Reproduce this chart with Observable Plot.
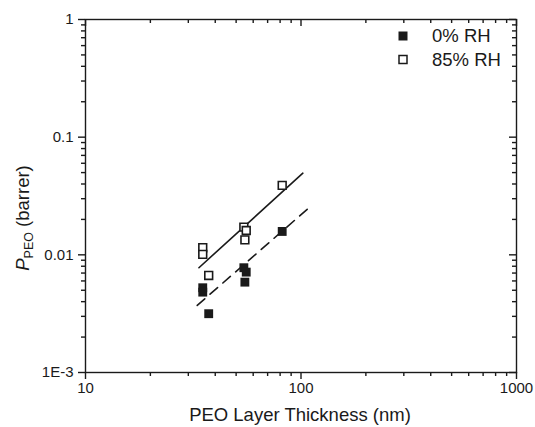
<!DOCTYPE html>
<html><head><meta charset="utf-8">
<script src="https://cdn.jsdelivr.net/npm/d3@7"></script>
<script src="https://cdn.jsdelivr.net/npm/@observablehq/plot@0.6"></script>
<style>
body{margin:0;background:#fff;}
#wrap{position:relative;width:535px;height:427px;font-family:Arial,"Liberation Sans",sans-serif;}
</style></head><body><div id="wrap"></div>
<script>
// 0% RH (filled squares)
const thick0 = [81.8, 54.3, 55.7, 54.9, 35.0, 35.0, 37.3];
const perm0  = [0.0158, 0.00777, 0.00713, 0.00586, 0.00525, 0.00482, 0.00316];
// 85% RH (open squares)
const thick85 = [81.8, 54.3, 55.7, 54.9, 35.0, 35.0, 37.3];
const perm85  = [0.0389, 0.0172, 0.0161, 0.0134, 0.0115, 0.0101, 0.00668];
// power-law fit lines
const fitX85 = [33.6, 102];
const fitY85 = [0.00777, 0.0494];
const fitX0  = [33.0, 108];
const fitY0  = [0.00372, 0.0248];
// ticks
const xMajor = [10, 100, 1000];
const xLabels = ["10", "100", "1000"];
const xMinor = [20,30,40,50,60,70,80,90,200,300,400,500,600,700,800,900];
const yMajor = [0.001, 0.01, 0.1, 1];
const yLabels = ["1E-3", "0.01", "0.1", "1"];
const yMinor = [0.002,0.003,0.004,0.005,0.006,0.007,0.008,0.009,
                0.02,0.03,0.04,0.05,0.06,0.07,0.08,0.09,
                0.2,0.3,0.4,0.5,0.6,0.7,0.8,0.9];
const seriesNames = ["0% RH", "85% RH"];

const rows0 = thick0.map((x,i)=>({x, y: perm0[i]}));
const rows85 = thick85.map((x,i)=>({x, y: perm85[i]}));
const fit85 = fitX85.map((x,i)=>({x, y: fitY85[i]}));
const fit0 = fitX0.map((x,i)=>({x, y: fitY0[i]}));

const ink = "#1a1a1a";
const W = 535, H = 427, mL = 85, mR = 19, mT = 19, mB = 55;
const IW = W - mL - mR, IH = H - mT - mB;
const MJ = 7, MN = 4, TW = 1.4;
const svg = Plot.plot({
  width: W, height: H,
  marginLeft: mL, marginRight: mR, marginTop: mT, marginBottom: mB,
  style: {fontFamily: "Arial, 'Liberation Sans', sans-serif", color: ink, background: "#fff"},
  x: {type: "log", domain: [10, 1000]},
  y: {type: "log", domain: [0.001, 1]},
  marks: [
    Plot.axisX(xMajor, {anchor: "bottom", tickSize: 0, tickPadding: 10, fontSize: 15, tickFormat: d => xLabels[xMajor.indexOf(d)], label: null}),
    Plot.axisY(yMajor, {anchor: "left", tickSize: 0, tickPadding: 12, fontSize: 15, tickFormat: d => yLabels[yMajor.indexOf(d)], label: null}),
    // bottom ticks (outward)
    Plot.ruleX(xMajor, {x: d => d, insetTop: IH - MJ, dy: MJ, stroke: ink, strokeWidth: TW}),
    Plot.ruleX(xMinor, {x: d => d, insetTop: IH - MN, dy: MN, stroke: ink, strokeWidth: TW}),
    // top ticks (inward)
    Plot.ruleX(xMajor, {x: d => d, insetBottom: IH - MJ, stroke: ink, strokeWidth: TW}),
    Plot.ruleX(xMinor, {x: d => d, insetBottom: IH - MN, stroke: ink, strokeWidth: TW}),
    // left ticks (outward)
    Plot.ruleY(yMajor, {y: d => d, insetRight: IW - MJ, dx: -MJ, stroke: ink, strokeWidth: TW}),
    Plot.ruleY(yMinor, {y: d => d, insetRight: IW - MN, dx: -MN, stroke: ink, strokeWidth: TW}),
    // right ticks (inward)
    Plot.ruleY(yMajor, {y: d => d, insetLeft: IW - MJ, stroke: ink, strokeWidth: TW}),
    Plot.ruleY(yMinor, {y: d => d, insetLeft: IW - MN, stroke: ink, strokeWidth: TW}),
    Plot.frame({stroke: ink, strokeWidth: 1.4}),
    Plot.line(fit85, {x: "x", y: "y", stroke: ink, strokeWidth: 1.6}),
    Plot.line(fit0, {x: "x", y: "y", stroke: ink, strokeWidth: 1.6, strokeDasharray: "10,7"}),
    Plot.dot(rows85, {x: "x", y: "y", symbol: "square", r: 4.4, fill: "#fff", stroke: ink, strokeWidth: 1.6}),
    Plot.dot(rows0, {x: "x", y: "y", symbol: "square", r: 5, fill: ink})
  ]
});
document.getElementById("wrap").appendChild(svg);
const s = d3.select(svg);
// x label
s.append("text").attr("x", 300).attr("y", 421).attr("text-anchor", "middle")
  .attr("font-size", 18.5).attr("fill", ink).text("PEO Layer Thickness (nm)");
// y label
const yl = s.append("text").attr("transform", "translate(29,218) rotate(-90)")
  .attr("text-anchor", "middle").attr("font-size", 18.5).attr("fill", ink);
yl.append("tspan").attr("font-style", "italic").text("P");
yl.append("tspan").attr("font-size", 12.5).attr("dy", 4).text("PEO");
yl.append("tspan").attr("dy", -4).text(" (barrer)");
// legend
const lg = s.append("g").attr("text-anchor", "start");
lg.append("rect").attr("x", 398.5).attr("y", 31.5).attr("width", 9).attr("height", 9).attr("fill", ink);
lg.append("rect").attr("x", 399).attr("y", 55.5).attr("width", 8).attr("height", 8).attr("fill", "#fff").attr("stroke", ink).attr("stroke-width", 1.5);
lg.append("text").attr("x", 432).attr("y", 42).attr("text-anchor", "start").attr("font-size", 18.5).attr("fill", ink).text(seriesNames[0]);
lg.append("text").attr("x", 432).attr("y", 66).attr("text-anchor", "start").attr("font-size", 18.5).attr("fill", ink).text(seriesNames[1]);
</script></body></html>
